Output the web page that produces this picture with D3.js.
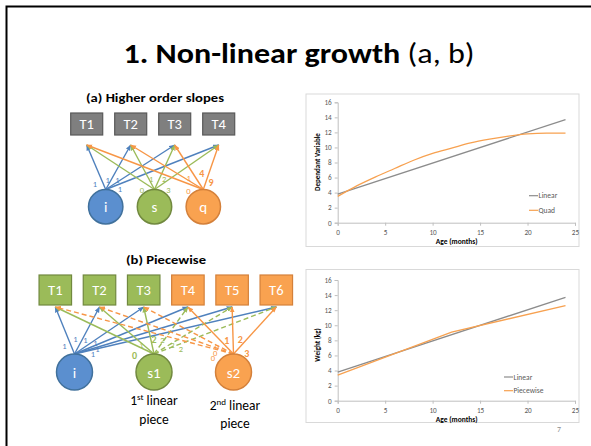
<!DOCTYPE html>
<html>
<head>
<meta charset="utf-8">
<script src="https://cdn.jsdelivr.net/npm/d3@7"></script>
<style>
body { margin: 0; background: #fff; }
svg { display: block; font-family: Carlito, Lato, "Open Sans", sans-serif; }
</style>
</head>
<body>
<div id="slide"></div>
<script>
/* DATA */
// chart (a): dependant variable by age
let quadAges = [0, 2, 4, 6, 8, 10, 12, 14, 16, 18, 20, 22, 24]
let quadVals = [3.5, 4.9, 6.1, 7.2, 8.3, 9.2, 9.9, 10.6, 11.1, 11.5, 11.8, 11.9, 11.9]
let linearAges = [0, 24]
let linearVals = [3.8, 13.7]
// chart (b): weight by age
let pieceAges = [0, 12, 24]
let pieceVals = [3.4, 9.1, 12.6]
let xTicks = [0, 5, 10, 15, 20, 25]
let yTicks = [0, 2, 4, 6, 8, 10, 12, 14, 16]

// diagram (a)
let timesA = ["T1", "T2", "T3", "T4"]
let factorsA = ["i", "s", "q"]
let loadIA = [1, 1, 1, 1]
let loadSA = [0, 1, 2, 3]
let loadQA = [0, 1, 4, 9]
// diagram (b)
let timesB = ["T1", "T2", "T3", "T4", "T5", "T6"]
let pieceOfTime = [1, 1, 1, 2, 2, 2]
let factorsB = ["i", "s1", "s2"]
let loadIB = [1, 1, 1, 1, 1, 1]
let loadS1B = [0, 1, 2, 2, 2, 2]
let loadS2B = [0, 0, 0, 1, 2, 3]

/* COLOURS */
let col = {
    blue: "#4f81bd", blueFill: "#5b8fcf", blueEdge: "#41719c",
    green: "#9bbb59", greenFill: "#9bbb59", greenEdge: "#71893f",
    orange: "#f79646", orangeFill: "#f9a250", orangeEdge: "#d4803a",
    grey: "#7f7f7f", greyEdge: "#595959"
}

let svg = d3.select('#slide').append('svg').attr('width', 591).attr('height', 446)

// slide edge
svg.append('path').attr('d', 'M6.5,446V6.5H591')
    .attr('fill', 'none').attr('stroke', '#000').attr('stroke-width', 2)

// title
let title = svg.append('text').attr('x', 299).attr('y', 63.3)
    .attr('text-anchor', 'middle').attr('font-size', 29).attr('fill', '#000')
title.append('tspan').attr('font-weight', 'bold').text('1. Non-linear growth')
title.append('tspan').text(' (a, b)')
title.attr('textLength', 351).attr('lengthAdjust', 'spacingAndGlyphs')

// arrow heads
let defs = svg.append('defs')
;['blue', 'green', 'orange'].forEach(k => {
    defs.append('marker').attr('id', 'arr-' + k)
        .attr('viewBox', '0 0 10 10').attr('refX', 9).attr('refY', 5)
        .attr('markerWidth', 6).attr('markerHeight', 6)
        .attr('markerUnits', 'userSpaceOnUse').attr('orient', 'auto')
        .append('path').attr('d', 'M0,1L10,5L0,9z').attr('fill', col[k])
})

/* DIAGRAMS */
function drawDiagram(d) {
    let g = svg.append('g')
    let bx = d3.scalePoint().domain(d.times).range(d.boxRange)
    let fx = d3.scalePoint().domain(d.factors).range(d.circRange)

    // heading
    g.append('text').attr('x', d.headX).attr('y', d.headY).attr('text-anchor', 'middle')
        .attr('font-size', 12.5).attr('font-weight', 'bold')
        .attr('textLength', d.headW).attr('lengthAdjust', 'spacingAndGlyphs')
        .text(d.heading)

    // paths
    d.factors.forEach((f, fi) => {
        let ox = fx(f), oy = d.circY - d.r
        d.times.forEach((t, ti) => {
            g.append('line')
                .attr('x1', ox).attr('y1', oy)
                .attr('x2', bx(t)).attr('y2', d.tipY)
                .attr('stroke', col[d.lineCol[fi]]).attr('stroke-width', 1.4)
                .attr('stroke-dasharray', d.dashed(fi, ti) ? '5,3' : null)
                .attr('marker-end', `url(#arr-${d.lineCol[fi]})`)
        })
    })

    // time boxes
    let boxes = g.selectAll('.box').data(d.times).enter().append('g')
    boxes.append('rect')
        .attr('x', t => bx(t) - d.bw / 2).attr('y', d.boxY)
        .attr('width', d.bw).attr('height', d.bh)
        .attr('fill', (t, i) => col[d.boxCol(i) + 'Fill'] || col[d.boxCol(i)])
        .attr('stroke', (t, i) => col[d.boxCol(i) + 'Edge'])
        .attr('stroke-width', 1.2)
    boxes.append('text')
        .attr('x', t => bx(t)).attr('y', d.boxY + d.bh / 2 + 5)
        .attr('text-anchor', 'middle').attr('font-size', 14.5).attr('fill', '#fff')
        .text(t => t)

    // factor circles
    let circ = g.selectAll('.fac').data(d.factors).enter().append('g')
    circ.append('circle')
        .attr('cx', f => fx(f)).attr('cy', d.circY).attr('r', d.r)
        .attr('fill', (f, i) => col[d.lineCol[i] + 'Fill'])
        .attr('stroke', (f, i) => col[d.lineCol[i] + 'Edge'])
        .attr('stroke-width', 1.5)
    circ.append('text')
        .attr('x', f => fx(f)).attr('y', d.circY + 5.5)
        .attr('text-anchor', 'middle').attr('font-size', 15).attr('fill', '#fff')
        .text(f => f)

    // loading labels
    d.factors.forEach((f, fi) => {
        let ox = fx(f), oy = d.circY - d.r
        d.loads[fi].forEach((v, ti) => {
            let off = d.labelOff[fi][ti]
            g.append('text')
                .attr('x', ox + off[0]).attr('y', oy + off[1])
                .attr('dominant-baseline', 'central').attr('text-anchor', 'middle')
                .attr('font-size', d.bold(fi, ti) ? 10 : 8.5)
                .attr('font-weight', d.bold(fi, ti) ? 'bold' : 'normal')
                .attr('fill', col[d.lineCol[fi]])
                .text(v)
        })
    })
    return g
}

drawDiagram({
    heading: '(a) Higher order slopes', headX: 155, headY: 102.3, headW: 138,
    times: timesA, factors: factorsA,
    loads: [loadIA, loadSA, loadQA],
    boxRange: [86.7, 218.7], circRange: [105.7, 203.3],
    boxY: 113, bw: 32, bh: 22, tipY: 145,
    circY: 206.7, r: 17.2,
    lineCol: ['blue', 'green', 'orange'],
    boxCol: () => 'grey',
    dashed: () => false,
    bold: (fi, ti) => fi === 2 && ti >= 2,
    labelOff: [
        [[-10.7, -6], [2, -10], [11.6, -10], [14.3, -0.3]],
        [[-12.6, 0], [-3.3, -11], [9.7, -11], [14, 0]],
        [[-15, 1.7], [-14.6, -11.6], [-1.6, -16], [7.7, -6.6]]
    ]
})

drawDiagram({
    heading: '(b) Piecewise', headX: 166, headY: 264, headW: 80,
    times: timesB, factors: factorsB,
    loads: [loadIB, loadS1B, loadS2B],
    boxRange: [55.3, 276.3], circRange: [74.5, 233.5],
    boxY: 275, bw: 32.5, bh: 30, tipY: 307,
    circY: 372, r: 18,
    lineCol: ['blue', 'green', 'orange'],
    boxCol: i => pieceOfTime[i] === 1 ? 'green' : 'orange',
    dashed: (fi, ti) => (fi === 1 && pieceOfTime[ti] === 2) || (fi === 2 && pieceOfTime[ti] === 1),
    bold: (fi, ti) => (fi === 2 && ti >= 3) || (fi === 1 && (ti === 0 || ti === 2)),
    labelOff: [
        [[-10, -8], [1, -15], [11, -14], [21, -11.3], [18.3, 0], [23, -5]],
        [[-19.4, 1.7], [-12.7, -9.3], [0, -14.3], [8.3, -14], [18.3, -9], [27, -5]],
        [[-16.6, -7.3], [-18.3, -1], [-20.6, 4.4], [-6.6, -13.3], [6.7, -14.3], [13.4, -1]]
    ]
})

// captions under s1 / s2
function caption(x, y1, y2, num, sup) {
    let t = svg.append('text').attr('x', x).attr('y', y1).attr('text-anchor', 'middle').attr('font-size', 13.5)
    t.append('tspan').text(num)
    t.append('tspan').attr('font-size', 9).attr('dy', -5.5).text(sup)
    t.append('tspan').attr('dy', 5.5).text(' linear')
    svg.append('text').attr('x', x).attr('y', y2).attr('text-anchor', 'middle').attr('font-size', 13.5).text('piece')
}
caption(154, 405, 423.5, '1', 'st')
caption(235, 410, 428, '2', 'nd')

/* LINE CHARTS */
function drawChart(c) {
    let g = svg.append('g')
    g.append('rect').attr('x', c.frame[0]).attr('y', c.frame[1])
        .attr('width', c.frame[2]).attr('height', c.frame[3])
        .attr('fill', '#fff').attr('stroke', '#d9d9d9').attr('stroke-width', 1)

    let x = d3.scaleLinear().domain([0, 25]).range([337.7, 575])
    let y = d3.scaleLinear().domain([0, 16]).range(c.yRange)

    let yAxis = g.append('g').attr('transform', 'translate(337.7,0)')
        .call(d3.axisLeft(y).tickValues(yTicks).tickSize(3).tickPadding(3))
    let xAxis = g.append('g').attr('transform', `translate(0,${c.yRange[0]})`)
        .call(d3.axisBottom(x).tickValues(xTicks).tickSize(3).tickPadding(4))
    ;[xAxis, yAxis].forEach(a => {
        a.selectAll('path,line').attr('stroke', '#bfbfbf')
        a.selectAll('text').attr('fill', '#595959').attr('font-size', 7.2)
            .attr('font-family', 'Carlito, Lato, sans-serif')
    })

    g.append('text').attr('x', 456.7).attr('y', c.yRange[0] + 21.5)
        .attr('text-anchor', 'middle').attr('font-size', 7.5).attr('font-weight', 'bold')
        .text('Age (months)')
    g.append('text').attr('transform', `translate(${320},${c.yTitleY}) rotate(-90)`)
        .attr('text-anchor', 'middle').attr('font-size', 7).attr('font-weight', 'bold')
        .text(c.yTitle)

    let line = d3.line().x(p => x(p[0])).y(p => y(p[1]))
    c.series.forEach((s, i) => {
        g.append('path').datum(d3.zip(s.ages, s.vals))
            .attr('d', line.curve(s.curve || d3.curveLinear))
            .attr('fill', 'none').attr('stroke', s.color).attr('stroke-width', 1.3)
        let ly = c.legY + i * c.legGap
        g.append('line').attr('x1', c.legX).attr('x2', c.legX + 9).attr('y1', ly).attr('y2', ly)
            .attr('stroke', s.color).attr('stroke-width', 1.2)
        g.append('text').attr('x', c.legX + 9.5).attr('y', ly + 2.6)
            .attr('font-size', 7.5).attr('fill', '#595959').text(s.name)
    })
}

drawChart({
    frame: [306, 94, 273, 152.5], yRange: [222.7, 102.3],
    yTitle: 'Dependant Variable', yTitleY: 162,
    legX: 529, legY: 195.7, legGap: 14.6,
    series: [
        { name: 'Linear', ages: linearAges, vals: linearVals, color: '#8c8c8c' },
        { name: 'Quad', ages: quadAges, vals: quadVals, color: '#f7a150', curve: d3.curveMonotoneX }
    ]
})

drawChart({
    frame: [306, 269.5, 273, 153], yRange: [400.7, 280],
    yTitle: 'Weight (kg)', yTitleY: 345,
    legX: 504, legY: 377, legGap: 13.7,
    series: [
        { name: 'Linear', ages: linearAges, vals: linearVals, color: '#8c8c8c' },
        { name: 'Piecewise', ages: pieceAges, vals: pieceVals, color: '#f7a150' }
    ]
})

// slide number
svg.append('text').attr('x', 559).attr('y', 432).attr('text-anchor', 'middle')
    .attr('font-size', 8).attr('fill', '#8c8c8c').text('7')
</script>
</body>
</html>
